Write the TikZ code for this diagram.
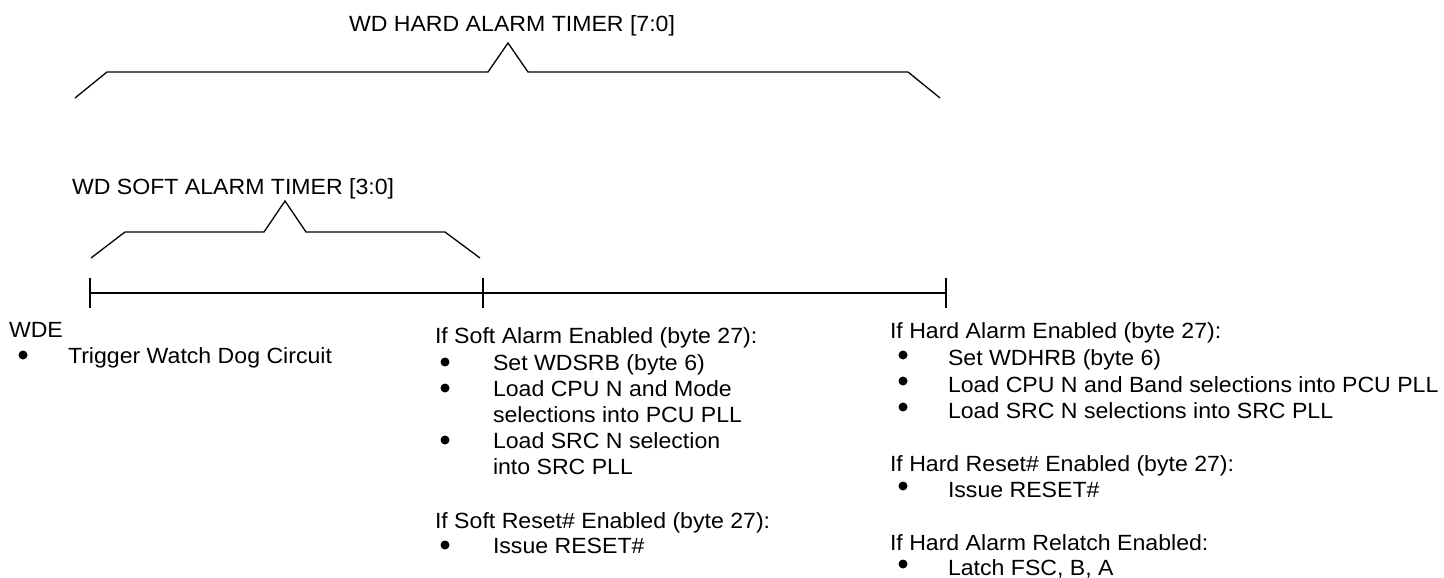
\documentclass[tikz,border=0pt]{standalone}
\usepackage{fontspec}
\setmainfont[FakeStretch=1.05]{Liberation Sans}
\begin{document}
\begin{tikzpicture}[x=1bp,y=-1bp,
  txt/.style={anchor=base west,inner sep=0pt,outer sep=0pt,font=\fontsize{22bp}{26bp}\selectfont},
  dot/.style={circle,fill=black,inner sep=0pt,minimum size=9bp},
  brace/.style={line width=1.3bp,line join=miter},
  axis/.style={line width=2bp}]
\useasboundingbox (0,0) rectangle (1444,578);
% hard brace
\node[txt,anchor=base] (hardt) at (512,32) {WD HARD ALARM TIMER [7:0]};
\draw[brace] (75,98) -- (107,72) -- (488,72) -- (508,43) -- (528,72) -- (908,72) -- (940,98);
% soft brace
\node[txt] (softt) at (72,195) {WD SOFT ALARM TIMER [3:0]};
\draw[brace] (91,258) -- (125,232) -- (264,232) -- (285,201) -- (306,232) -- (445,232) -- (480,258);
% timeline
\coordinate (t0) at (90,293);
\coordinate (t1) at (483,293);
\coordinate (t2) at (946,293);
\draw[axis] (t0) -- (t2);
\foreach \p in {t0,t1,t2} \draw[axis] ([yshift=15bp]\p) -- ([yshift=-15bp]\p);
% WDE
\node[txt] (wde) at (9,337) {WDE};
\node[dot] (b0) at (23,355) {};
\node[txt] (trig) at (68,363) {Trigger Watch Dog Circuit};
% soft column
\node[txt] (s1) at (435,343) {If Soft Alarm Enabled (byte 27):};
\node[dot] (sb1) at (445,362) {};
\node[txt] (s2) at (493,370) {Set WDSRB (byte 6)};
\node[dot] (sb2) at (445,388) {};
\node[txt] (s3) at (493,396) {Load CPU N and Mode};
\node[txt] (s4) at (493,422) {selections into PCU PLL};
\node[dot] (sb3) at (445,440) {};
\node[txt] (s5) at (493,448) {Load SRC N selection};
\node[txt] (s6) at (493,474) {into SRC PLL};
\node[txt] (s7) at (435,528) {If Soft Reset\# Enabled (byte 27):};
\node[dot] (sb4) at (445,545) {};
\node[txt] (s8) at (493,553) {Issue RESET\#};
% hard column
\node[txt] (h1) at (890,338) {If Hard Alarm Enabled (byte 27):};
\node[dot] (hb1) at (903,355) {};
\node[txt] (h2) at (948,365) {Set WDHRB (byte 6)};
\node[dot] (hb2) at (903,381) {};
\node[txt] (h3) at (948,392) {Load CPU N and Band selections into PCU PLL};
\node[dot] (hb3) at (903,407) {};
\node[txt] (h4) at (948,418) {Load SRC N selections into SRC PLL};
\node[txt] (h5) at (890,471) {If Hard Reset\# Enabled (byte 27):};
\node[dot] (hb4) at (903,486) {};
\node[txt] (h6) at (948,497) {Issue RESET\#};
\node[txt] (h7) at (890,550) {If Hard Alarm Relatch Enabled:};
\node[dot] (hb5) at (903,564) {};
\node[txt] (h8) at (948,575) {Latch FSC, B, A};
\end{tikzpicture}
\end{document}
